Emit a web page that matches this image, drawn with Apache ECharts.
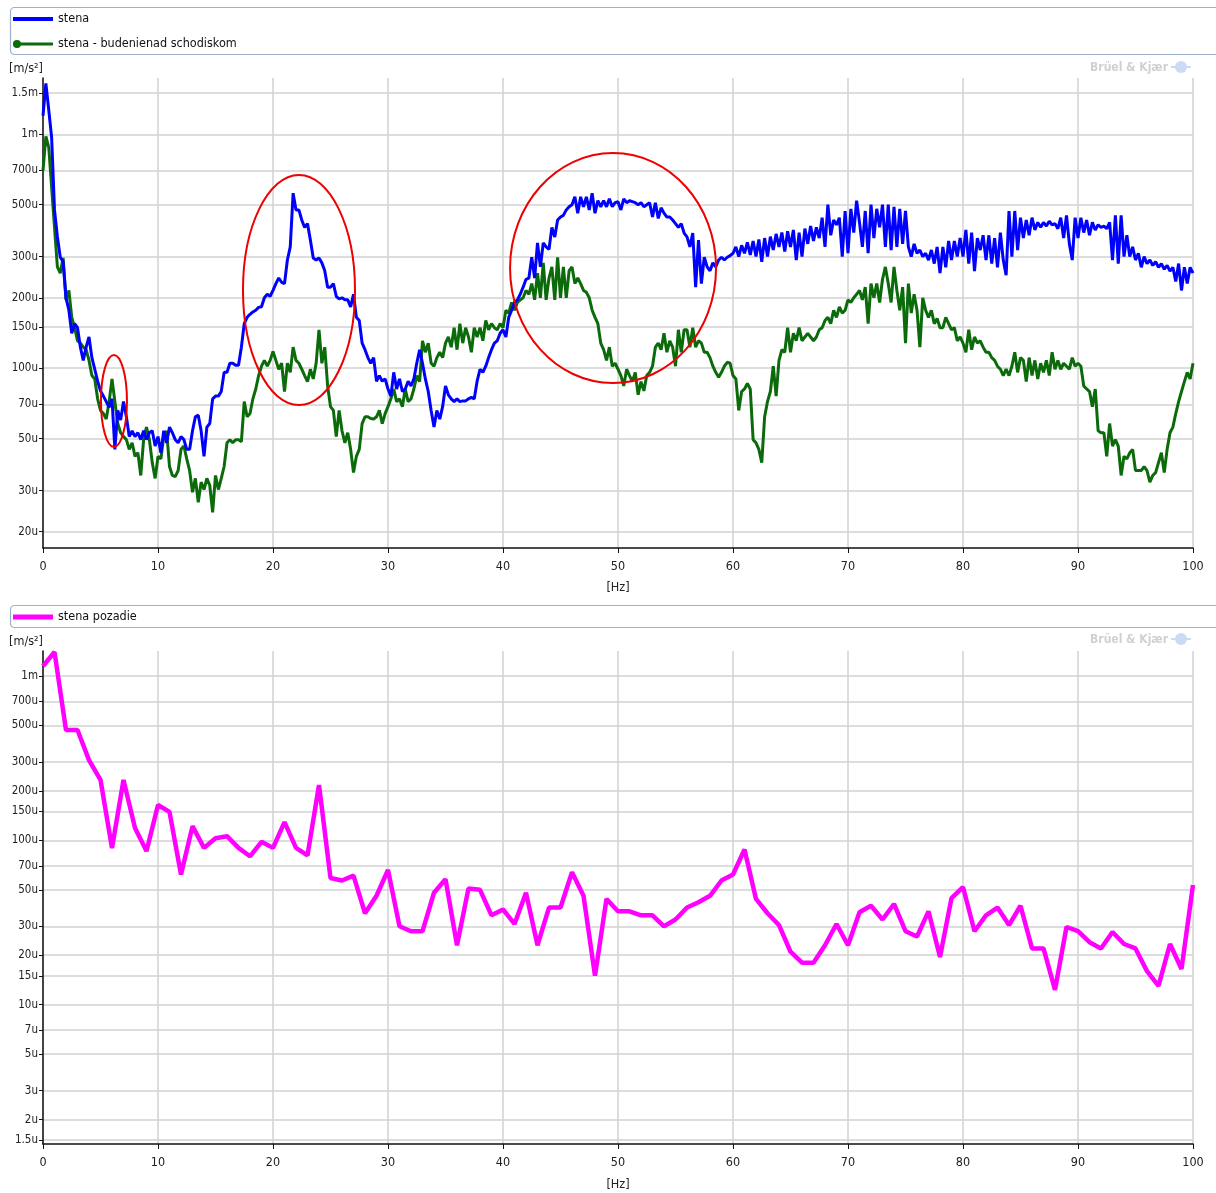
<!DOCTYPE html>
<html><head><meta charset="utf-8">
<script src="https://cdn.jsdelivr.net/npm/echarts@6/dist/echarts.min.js"></script>
<style>html,body{margin:0;padding:0;background:#fff}#c{width:1216px;height:1193px}</style>
</head><body><div id="c"></div><script>
// Spectrum line spacing of the analyser (Hz)
const FREQ_STEP = 0.25;
const FREQ_STEP_BG = 1;
// values in micro m/s^2
const stena = [
1200,1650,1270,970, 475,365,298,285, 200,177,141,155, 149,123,108,123, 136,111,99,88,
80,76,72,68, 74,45,66,60, 72,62,51,54, 51,53,49.5,54, 49.5,53,54,46.5,
51,43.5,54,48, 56,53,49.5,48, 51,49.5,45,45, 54,62,63,54, 42,56,58,74,
76,76,79.5,96, 96,105,105,103, 103,123,155,165, 170,174,177,182, 183,200,207,203,
215,230,243,233, 230,290,330,560, 475,475,430,400, 415,353,296,290, 296,282,261,222,
222,230,203,198, 200,196,196,183, 207,165,160,128, 120,111,105,111, 88,93,88,90,
81.5,76,96,81.5, 90,79.5,81.5,88, 84,90,105,120, 105,90,79.5,66, 56,66,60.6,68.5,
84,77,74,72, 74,72,72.5,72.5, 74,75,74,88, 99,96,102,111, 120,128,131,141,
146,136,165,177, 191,196,207,222, 240,243,298,243, 343,271,343,330, 322,400,364,430,
443,450,475,490, 500,540,460,540, 490,540,475,560, 460,520,490,520, 490,530,490,510,
515,475,530,510, 520,515,510,500, 510,490,500,510, 443,510,437,485, 460,443,443,430,
415,400,415,378, 364,330,378,222, 353,230,298,271, 261,282,271,290, 298,290,298,303,
310,330,300,335, 310,345,305,350, 300,355,285,360, 300,365,320,375, 330,380,315,385,
330,390,290,380, 300,395,340,405, 350,400,360,440, 330,500,370,430, 410,440,300,470,
310,480,380,520, 420,330,470,310, 500,360,480,400, 500,330,500,320, 490,330,480,340,
470,330,300,340, 310,320,300,310, 290,320,280,330, 255,330,270,350, 290,350,300,360,
300,390,280,380, 260,360,320,370, 290,370,280,360, 270,380,290,250, 470,300,470,320,
440,360,430,370, 440,390,420,400, 420,405,425,410, 415,395,440,360, 450,340,290,440,
360,440,380,430, 370,420,390,410, 400,405,395,420, 290,450,280,450, 300,370,300,330,
290,310,270,300, 280,290,275,285, 270,280,265,275, 260,270,235,280, 215,270,230,270,
255
];
const stenaBudenie = [
700,980,880,595, 400,271,255,296, 196,215,165,149, 131,128,123,120, 108,93,90,74,
66,64,60.6,72, 90,72,58,53, 51,49.5,45,48, 42,43.5,34.8,49.5, 56,49.5,39.5,33.8,
42,41,51,54, 38,34.8,34.4,36.5, 45,46.5,41,36.5, 29.5,33.8,26.7,32.6, 30.3,33.8,31.6,24.2,
34.8,30.3,33.8,38, 48,49.5,48,49.5, 49.5,48.5,72,62, 64,74,81.5,93, 102,108,102,108,
118,108,99,105, 79.5,105,96,123, 108,105,99,93, 87.6,99,90,105, 146,105,123,84,
68.5,66,51,66, 54,48,53,45, 35.8,42,45,58, 62,62,61,60.6, 62,66,58,64,
68.5,74,81.5,72, 74,68.5,81.5,72, 74,81.5,93,87.6, 131,117,128,105, 102,111,117,111,
128,136,123,149, 120,155,128,149, 136,117,149,136, 149,131,160,146, 155,149,146,155,
149,177,172,191, 177,191,196,200, 215,207,230,196, 255,200,282,196, 243,271,196,298,
200,271,200,261, 271,230,243,230, 215,211,200,177, 165,155,128,120, 108,123,102,105,
99,93,84,99, 93,87.6,96,77, 87.6,80,93,96, 102,123,128,120, 141,117,131,123,
102,146,117,146, 146,123,149,123, 131,128,117,117, 111,102,96,91.5, 96,102,106,105,
93,90,66,79.5, 81.5,86,81.5,49.5, 48,45,39.5,62, 72,79.5,102,76, 108,120,117,149,
117,141,131,149, 131,136,141,136, 131,136,146,149, 160,165,155,177, 165,183,172,177,
196,191,200,207, 215,196,222,155, 230,200,230,191, 240,271,230,191, 271,215,177,222,
128,230,172,207, 177,123,200,177, 165,177,155,163, 149,149,165,155, 146,149,131,136,
128,117,146,120, 136,128,131,123, 117,117,111,108, 102,99,93,99, 93,102,117,96,
111,108,87.6,111, 93,108,90,105, 96,108,93,117, 99,108,99,105, 102,99,111,102,
105,102,84,81.5, 79.5,68.5,81.5,54, 53,53,42,58, 46.5,49.5,46.5,34.8, 42,41,43.5,45,
36.5,36.5,36.5,38, 36.5,32.6,34.8,35.8, 39.5,43.5,35.8,45, 53,56,64,72, 79.5,87.6,96,90,
105
];
const stenaPozadie = [
1150,1400,469,469,308,233,89.8,233,119,86,
164,149,62,122,90,103,106,90,80,98,
90,129,90,81,217,59,57,61,36,46,
66,30,28,28,48,58,23,51,50,35,
38,31,48,23,39,39,64,46,15,44,
37,37,35,35,30,33,39,42,46,57,
62,88,44,36,30.5,21,18,18,23,31,
23,36.5,40,33,41,28,26,37,19.5,44.5,
52,28,35,39,30.5,40,22,22,12.3,29.7,
28,24,22,27.7,23.4,22,16,13,23.4,16.5,
53.5
];
const TOP_TICKS = [20,30,50,70,100,150,200,300,500,700,1000,1500];
const BOTTOM_TICKS = [1.5,2,3,5,7,10,15,20,30,50,70,100,150,200,300,500,700,1000];
const TOP_RANGE = [17.04, 1740];
const BOTTOM_RANGE = [1.42, 1420];
const SERIES_NAMES = ['stena', 'stena - budenienad schodiskom', 'stena pozadie'];

const FONT = "'DejaVu Sans Condensed','Liberation Sans',sans-serif";
function toPairs(vals, step){ return vals.map((v,i)=>[i*step, v]); }
function fmtMicro(v){
  if (v >= 1000) return (+(v/1000).toPrecision(3)) + 'm';
  return (+v.toPrecision(3)) + 'u';
}
const log10 = Math.log10;

function xAxisCfg(gi, gap){
  return {
    gridIndex: gi, type:'value', min:0, max:100, interval:10,
    name:'[Hz]', nameLocation:'middle', nameGap: gap,
    nameTextStyle:{fontFamily:FONT, fontSize:12.5, color:'#222'},
    axisLine:{show:true, onZero:false, lineStyle:{color:'#111', width:1.5}},
    axisTick:{show:true, length:5, lineStyle:{color:'#111'}},
    axisLabel:{fontFamily:FONT, fontSize:12.5, color:'#222', margin:12},
    splitLine:{show:true, lineStyle:{color:'#d2d2d2', width:1.5}}
  };
}
function logAxisCfg(gi, range){
  return {gridIndex:gi, type:'log', logBase:10, min:range[0], max:range[1], show:false, position:'right'};
}
function tickAxisCfg(gi, range, ticks){
  const lv = ticks.map(t=>log10(t));
  return {
    gridIndex:gi, type:'value', position:'left',
    min: log10(range[0]), max: log10(range[1]),
    name:'[m/s²]', nameLocation:'end', nameGap:3,
    nameTextStyle:{fontFamily:FONT, fontSize:12.5, color:'#222', align:'right', verticalAlign:'bottom'},
    axisLine:{show:true, lineStyle:{color:'#111', width:1.5}},
    axisTick:{show:true, length:4, customValues: lv, lineStyle:{color:'#111'}},
    axisLabel:{fontFamily:FONT, fontSize:11.5, color:'#222', margin:5, customValues: lv,
      formatter: function(v){ return fmtMicro(Math.pow(10, v)); }},
    splitLine:{show:true, lineStyle:{color:'#d2d2d2', width:1.5}}
  };
}

const chart = echarts.init(document.getElementById('c'), null, {renderer:'canvas'});
const LEG_TEXT = {fontFamily:FONT, fontSize:12.5, lineHeight:16, color:'#111'};
const option = {
  animation:false,
  backgroundColor:'#fff',
  grid:[
    {left:43, top:78, width:1150, height:470, outerBoundsMode:'none', containLabel:false},
    {left:43, top:651, width:1150, height:493, outerBoundsMode:'none', containLabel:false}
  ],
  legend:[
    {
      data:[
        {name:SERIES_NAMES[0], icon:'path://M0,0M0,8M0,2h40v4h-40z', itemStyle:{color:'#0000ff', borderWidth:0}},
        {name:SERIES_NAMES[1], icon:'path://M0,2.5h40v3h-40zM0,4a4,4 0 1,1 8,0a4,4 0 1,1 -8,0z', itemStyle:{color:'#0b6b0b', borderWidth:0}}
      ],
      orient:'vertical', left:13, top:11, padding:0, itemWidth:40, itemHeight:8, itemGap:9,
      selectedMode:false, textStyle:LEG_TEXT
    },
    {
      data:[{name:SERIES_NAMES[2], icon:'path://M0,0M0,8M0,1.5h40v5h-40z', itemStyle:{color:'#ff00ff', borderWidth:0}}],
      orient:'vertical', left:13, top:609, padding:0, itemWidth:40, itemHeight:8,
      selectedMode:false, textStyle:LEG_TEXT
    }
  ],
  xAxis:[xAxisCfg(0, 33), xAxisCfg(1, 34)],
  yAxis:[
    logAxisCfg(0, TOP_RANGE), tickAxisCfg(0, TOP_RANGE, TOP_TICKS),
    logAxisCfg(1, BOTTOM_RANGE), tickAxisCfg(1, BOTTOM_RANGE, BOTTOM_TICKS)
  ],
  series:[
    {name:SERIES_NAMES[0], type:'line', xAxisIndex:0, yAxisIndex:0, showSymbol:false, symbol:'none',
     data: toPairs(stena, FREQ_STEP), lineStyle:{color:'#0000ff', width:3}, itemStyle:{color:'#0000ff'}, z:3},
    {name:SERIES_NAMES[1], type:'line', xAxisIndex:0, yAxisIndex:0, showSymbol:false, symbol:'none',
     data: toPairs(stenaBudenie, FREQ_STEP), lineStyle:{color:'#0b6b0b', width:3}, itemStyle:{color:'#0b6b0b'}, z:2},
    {name:SERIES_NAMES[2], type:'line', xAxisIndex:1, yAxisIndex:2, showSymbol:false, symbol:'none',
     data: toPairs(stenaPozadie, FREQ_STEP_BG), lineStyle:{color:'#ff00ff', width:4.5}, itemStyle:{color:'#ff00ff'}, z:2}
  ]
};
chart.setOption(option);

// Frames, watermark, and hand-drawn red annotation ellipses (placed in data coords)
const ANNOT = [
  {f:6.17, v:72.4, rx:13, ry:46},
  {f:22.26, v:216, rx:56, ry:115},
  {f:49.57, v:268, rx:103, ry:115}
];
const graphics = [
  {type:'rect', shape:{x:10.5, y:7.5, width:1212, height:47, r:4}, style:{fill:'none', stroke:'#9bb0cb', lineWidth:1.2}, z:1},
  {type:'rect', shape:{x:10.5, y:605.5, width:1212, height:22, r:4}, style:{fill:'none', stroke:'#9bb0cb', lineWidth:1.2}, z:1}
];
[68, 640].forEach(function(y){
  graphics.push({type:'text', x:1168, y:y, style:{text:'Brüel & Kjær', fill:'#d0d0d0', font:"bold 12px " + FONT, textAlign:'right', textVerticalAlign:'middle'}, z:1});
  graphics.push({type:'circle', shape:{cx:1181, cy:y-1, r:6}, style:{fill:'#c9dcf3'}, z:1});
  graphics.push({type:'rect', shape:{x:1171, y:y-2, width:20, height:2}, style:{fill:'#c9dcf3'}, z:1});
});
ANNOT.forEach(function(a){
  const p = chart.convertToPixel({xAxisIndex:0, yAxisIndex:0}, [a.f, a.v]);
  graphics.push({type:'ellipse', shape:{cx:p[0], cy:p[1], rx:a.rx, ry:a.ry}, style:{fill:'none', stroke:'#ee0000', lineWidth:2}, z:10});
});
chart.setOption({graphic: graphics});
</script></body></html>
